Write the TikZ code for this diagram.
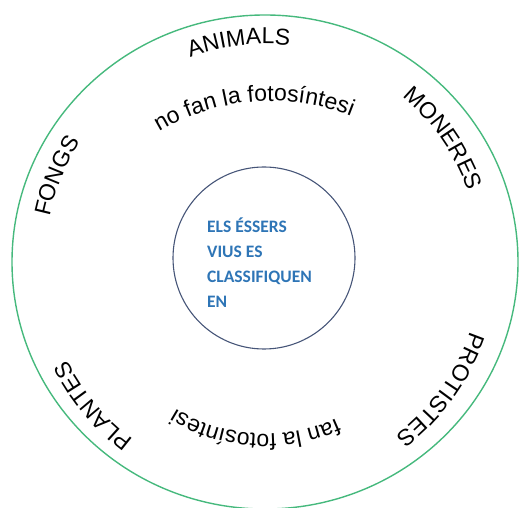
\documentclass[tikz,border=0pt]{standalone}
\usepackage{fontspec}
\usetikzlibrary{decorations.text}
\newfontfamily\lletrafont{Liberation Sans}
\newfontfamily\centrefont{Carlito}
\definecolor{verdcercle}{RGB}{70,185,125}
\definecolor{blaucercle}{RGB}{70,85,120}
\definecolor{blautext}{RGB}{46,117,182}

\begin{document}
\begin{tikzpicture}[x=1pt, y=1pt,
		etiqueta/.style={decorate, decoration={text along path, text align=center,
			text={|\lletrafont\fontsize{23}{27}\selectfont|#1}}}]
		
		\useasboundingbox (0,0) rectangle (519,508);
		\coordinate (centre) at (265,246);
		\coordinate (centrefoto) at (271,190);
		
		% Cercles
		\draw [verdcercle, line width=1.4pt] (centre) ellipse [x radius=253pt, y radius=247pt];
		\draw [blaucercle, line width=1.1pt] (264,250) circle [radius=91pt];
		
		% Text central
		\node [font=\centrefont\bfseries\fontsize{17.5}{25}\selectfont, text=blautext,
			align=left, anchor=base west, inner sep=0pt] (classifiquen) at (207,200)
			{ELS ÉSSERS\\VIUS ES\\CLASSIFIQUEN\\EN};
		
		% Regnes (al voltant del cercle)
		\path [etiqueta=ANIMALS] ([shift={(131.8:218pt)}]centre) arc [start angle=131.8, end angle=61.8, radius=218pt];
		\path [etiqueta=MONERES] ([shift={(69.7:215pt)}]centre) arc [start angle=69.7, end angle=-0.3, radius=215pt];
		\path [etiqueta=PROTISTES] ([shift={(-0.9:217pt)}]centre) arc [start angle=-0.9, end angle=-70.9, radius=217pt];
		\path [etiqueta=PLANTES] ([shift={(254.9:221pt)}]centre) arc [start angle=254.9, end angle=184.9, radius=221pt];
		\path [etiqueta=FONGS] ([shift={(187.5:220pt)}]centre) arc [start angle=187.5, end angle=127.5, radius=220pt];
		
		% Fotosintesi
		\path [etiqueta={no fan la fotosíntesi}] ([shift={(139.7:217pt)}]centrefoto) arc [start angle=139.7, end angle=49.7, radius=217pt];
		\path [etiqueta={fan la fotosíntesi}] ([shift={(-48.4:172pt)}]centre) arc [start angle=-48.4, end angle=-138.4, radius=172pt];
		
	\end{tikzpicture}
\end{document}
